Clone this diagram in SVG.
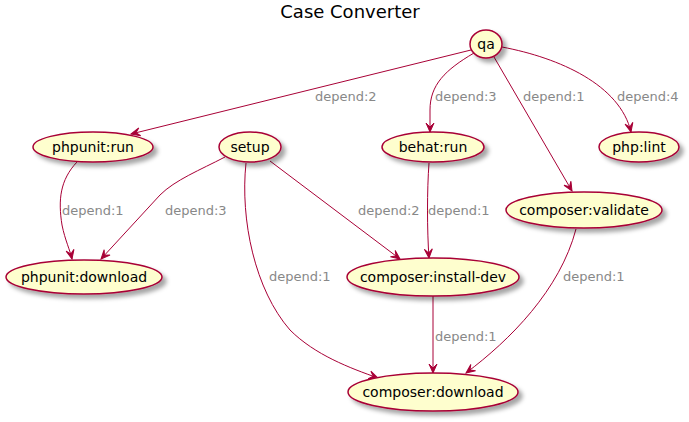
<svg xmlns="http://www.w3.org/2000/svg" width="689" height="422" viewBox="0 0 689 422">
<style>
.node ellipse{fill:#FEFECE;stroke:#A80036;stroke-width:1.5;filter:url(#sh)}
.node text{font-family:"DejaVu Sans",sans-serif;font-size:14px;fill:#000;text-anchor:middle}
.edge path{fill:none;stroke:#A80036;stroke-width:1;marker-end:url(#ah)}
.lbl{font-family:"DejaVu Sans",sans-serif;font-size:13px;fill:#888888}
.title{font-family:"DejaVu Sans",sans-serif;font-size:18px;fill:#000;text-anchor:middle}
</style>
<defs>
<filter id="sh" x="-20%" y="-30%" width="150%" height="180%">
<feDropShadow dx="4" dy="4" stdDeviation="2" flood-color="#000" flood-opacity="0.35"/>
</filter>
<marker id="ah" markerUnits="userSpaceOnUse" viewBox="-10 -5 12 10" refX="0" refY="0" markerWidth="12" markerHeight="10" orient="auto">
<path d="M0,0 L-9,-4 L-5,0 L-9,4 Z" fill="#A80036" stroke="#A80036" stroke-width="1"/>
</marker>
</defs>
<rect width="689" height="422" fill="#FFFFFF"/>
<text class="title" x="350" y="18">Case Converter</text>
<g id="connectors" class="edge">
<path d="M471,50 L131,134"/>
<path d="M474,53 C445,70 430,85 430,110 L430,132"/>
<path d="M494,57 L572,191"/>
<path d="M502,47 C560,58 620,85 631,132"/>
<path d="M77,162 C60,180 58,200 62,225 C65,240 70,250 72,259"/>
<path d="M225,157 C200,170 175,180 160,195 L101,259"/>
<path d="M246,163 C240,220 255,290 290,330 C315,355 350,368 378,378"/>
<path d="M270,161 L400,259"/>
<path d="M429,163 C427,190 427,230 429,258"/>
<path d="M576,229 C560,290 510,340 466,373"/>
<path d="M433,296 L433,373"/>
<text class="lbl" x="315" y="101">depend:2</text>
<text class="lbl" x="435" y="101">depend:3</text>
<text class="lbl" x="523" y="101">depend:1</text>
<text class="lbl" x="617" y="101">depend:4</text>
<text class="lbl" x="62" y="215">depend:1</text>
<text class="lbl" x="165" y="215">depend:3</text>
<text class="lbl" x="358" y="215">depend:2</text>
<text class="lbl" x="428" y="215">depend:1</text>
<text class="lbl" x="269" y="281">depend:1</text>
<text class="lbl" x="563" y="281">depend:1</text>
<text class="lbl" x="435" y="341">depend:1</text>
</g>
<g id="qa" class="node"><ellipse cx="486" cy="44" rx="16" ry="14"/><text x="486" y="49">qa</text></g>
<g id="phpunit-run" class="node"><ellipse cx="93" cy="147" rx="60" ry="15"/><text x="93" y="152">phpunit:run</text></g>
<g id="setup" class="node"><ellipse cx="250" cy="147" rx="31" ry="15"/><text x="250" y="152">setup</text></g>
<g id="behat-run" class="node"><ellipse cx="433" cy="147" rx="51" ry="15"/><text x="433" y="152">behat:run</text></g>
<g id="php-lint" class="node"><ellipse cx="639" cy="147" rx="40" ry="15"/><text x="639" y="152">php:lint</text></g>
<g id="composer-validate" class="node"><ellipse cx="584" cy="210" rx="78" ry="18"/><text x="584" y="215">composer:validate</text></g>
<g id="phpunit-download" class="node"><ellipse cx="84" cy="277" rx="78" ry="17"/><text x="84" y="282">phpunit:download</text></g>
<g id="composer-install-dev" class="node"><ellipse cx="433" cy="277" rx="86" ry="19"/><text x="433" y="282">composer:install-dev</text></g>
<g id="composer-download" class="node"><ellipse cx="433" cy="392" rx="85" ry="19"/><text x="433" y="397">composer:download</text></g>
</svg>
